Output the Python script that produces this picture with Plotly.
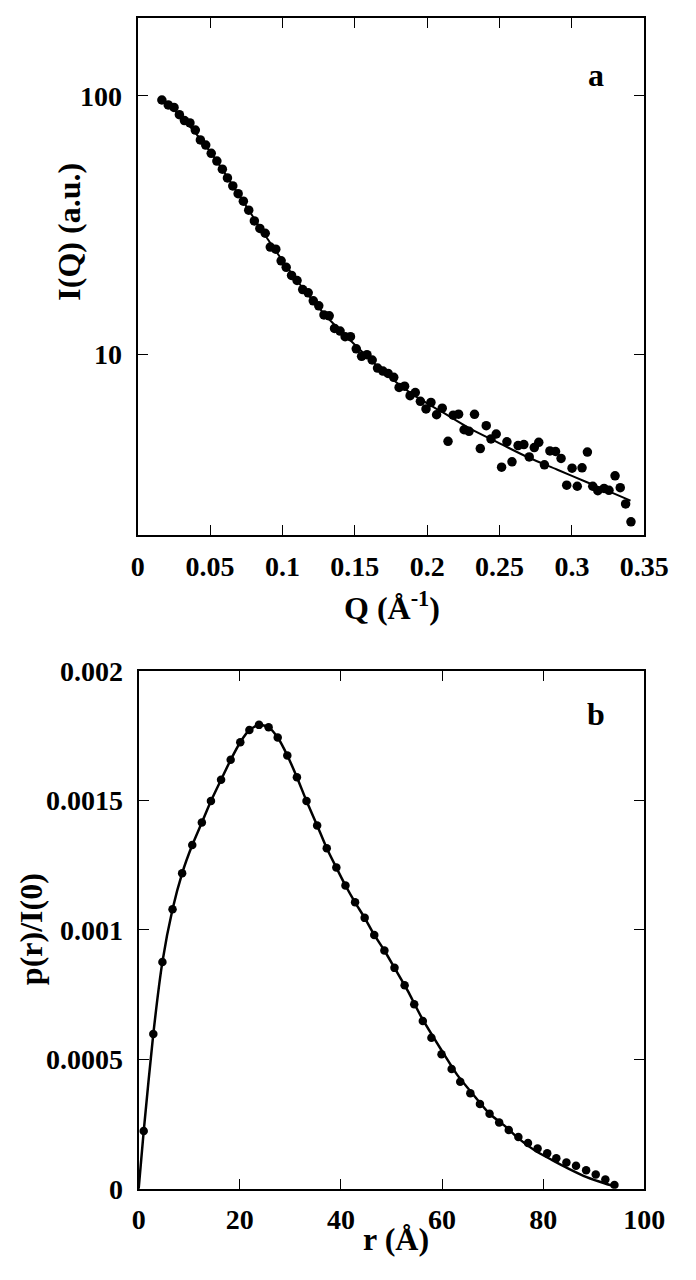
import plotly.graph_objects as go

# panel a: scattering curve, measured points
q_data = [
    0.0167, 0.0211, 0.0251, 0.0288, 0.0323, 0.0361, 0.0398, 0.0433, 0.0470, 0.0508,
    0.0547, 0.0585, 0.0620, 0.0657, 0.0694, 0.0730, 0.0767, 0.0806, 0.0844, 0.0881,
    0.0916, 0.0954, 0.0991, 0.1026, 0.1063, 0.1101, 0.1140, 0.1178, 0.1213, 0.1251,
    0.1287, 0.1323, 0.1360, 0.1398, 0.1433, 0.1470, 0.1510, 0.1547, 0.1584, 0.1620,
    0.1657, 0.1694, 0.1730, 0.1769, 0.1806, 0.1844, 0.1882, 0.1918, 0.1953, 0.1992,
    0.2026, 0.2065, 0.2104, 0.2144, 0.2180, 0.2217, 0.2255, 0.2289, 0.2327, 0.2367,
    0.2408, 0.2441, 0.2477, 0.2514, 0.2551, 0.2586, 0.2628, 0.2668, 0.2705, 0.2740,
    0.2771, 0.2810, 0.2848, 0.2887, 0.2925, 0.2964, 0.3001, 0.3037, 0.3070, 0.3107,
    0.3144, 0.3179, 0.3222, 0.3256, 0.3298, 0.3334, 0.3371, 0.3408,
]
i_data = [
    96.3, 92.2, 90.1, 84.5, 80.2, 78.5, 73.7, 67.5, 64.5, 59.9,
    55.9, 52.0, 48.1, 44.8, 41.8, 39.1, 36.1, 32.8, 30.7, 29.4,
    26.0, 25.5, 23.0, 21.7, 20.2, 19.3, 17.8, 17.3, 16.1, 15.4,
    14.2, 14.1, 12.6, 12.3, 11.7, 11.7, 10.5, 9.83, 9.97, 9.51,
    8.85, 8.62, 8.44, 8.15, 7.45, 7.53, 6.92, 7.12, 6.58, 6.15,
    6.52, 5.84, 6.19, 4.61, 5.82, 5.87, 5.11, 5.04, 5.86, 4.32,
    5.30, 4.71, 4.92, 3.66, 4.59, 3.84, 4.44, 4.48, 4.01, 4.36,
    4.57, 3.74, 4.23, 4.21, 3.96, 3.12, 3.63, 3.09, 3.64, 4.19,
    3.09, 2.97, 3.03, 2.98, 3.39, 3.05, 2.64, 2.25,
]

# panel a: fitted curve
q_fit = [0.0167, 0.03, 0.05, 0.07, 0.09, 0.11, 0.13, 0.15, 0.17, 0.19,
         0.21, 0.23, 0.25, 0.27, 0.29, 0.31, 0.33, 0.3405]
i_fit = [96.3, 83.0, 60.8, 41.3, 27.8, 19.3, 14.1, 10.9, 8.55, 7.0,
         6.0, 5.15, 4.53, 3.99, 3.58, 3.21, 2.88, 2.72]

# panel b: distance distribution, points
r_data = [
    1.0, 2.9, 4.7, 6.7, 8.6, 10.6, 12.5, 14.3, 16.3, 18.2,
    20.1, 21.9, 23.8, 25.7, 27.5, 29.4, 31.3, 33.2, 35.3, 37.2,
    39.1, 40.9, 42.8, 44.7, 46.6, 48.6, 50.6, 52.6, 54.5, 56.2,
    57.9, 59.9, 61.9, 63.6, 65.6, 67.5, 69.4, 71.3, 73.2, 75.1,
    77.0, 78.9, 80.8, 82.6, 84.6, 86.5, 88.5, 90.4, 92.3, 94.1,
]
p_data = [
    0.000223, 0.000598, 0.000876, 0.001079, 0.001218, 0.001327, 0.001414, 0.001497, 0.001579, 0.001656,
    0.001724, 0.001771, 0.001791, 0.001782, 0.001742, 0.001673, 0.001589, 0.001497, 0.001403, 0.001315,
    0.001240, 0.001171, 0.001106, 0.001046, 0.000980, 0.000920, 0.000853, 0.000786, 0.000713, 0.000648,
    0.000583, 0.000520, 0.000463, 0.000413, 0.000369, 0.000328, 0.000290, 0.000256, 0.000227, 0.000200,
    0.000177, 0.000156, 0.000137, 0.000118, 0.000102, 0.0000892, 0.0000716, 0.0000553, 0.0000365, 0.000015,
]

# panel b: fitted curve
r_fit = [0, 1.0, 2.9, 4.7, 6.7, 8.6, 10.6, 12.5, 14.3, 16.3, 18.2, 20.1, 21.9, 23.8,
         25.7, 27.5, 29.4, 31.3, 33.2, 35.3, 37.2, 39.1, 40.9, 42.8, 44.7, 46.6,
         48.6, 50.6, 53.2, 56.0, 59.9, 63.0, 66.0, 69.4, 72.3, 75.1, 78.6, 81.7,
         84.8, 88.6, 92.4, 94.1]
p_fit = [0, 0.000223, 0.000598, 0.000876, 0.001079, 0.001218, 0.001327, 0.001414,
         0.001497, 0.001579, 0.001656, 0.001724, 0.001771, 0.001791, 0.001782,
         0.001742, 0.001673, 0.001589, 0.001497, 0.001403, 0.001315, 0.00124,
         0.001171, 0.001106, 0.001046, 0.00098, 0.00092, 0.000853, 0.000765,
         0.00066, 0.000535, 0.00044, 0.000368, 0.00029, 0.000245, 0.000195,
         0.000145, 0.000112, 0.00008, 0.000045, 0.00002, 0.000011]

q_ticks = [0, 0.05, 0.1, 0.15, 0.2, 0.25, 0.3, 0.35]
q_labels = ["0", "0.05", "0.1", "0.15", "0.2", "0.25", "0.3", "0.35"]
i_ticks = [10, 100]
r_ticks = [0, 20, 40, 60, 80, 100]
p_ticks = [0, 0.0005, 0.001, 0.0015, 0.002]
p_labels = ["0", "0.0005", "0.001", "0.0015", "0.002"]

W, H = 696, 1280
FONT = "Liberation Serif"

fig = go.Figure()
fig.add_trace(go.Scatter(x=q_fit, y=i_fit, mode="lines", line=dict(color="black", width=2, shape="spline"),
                         xaxis="x", yaxis="y", showlegend=False))
fig.add_trace(go.Scatter(x=q_data, y=i_data, mode="markers", marker=dict(color="black", size=9.5),
                         xaxis="x", yaxis="y", showlegend=False))
fig.add_trace(go.Scatter(x=r_fit, y=p_fit, mode="lines", line=dict(color="black", width=2.5, shape="spline", smoothing=0.6),
                         xaxis="x2", yaxis="y2", showlegend=False))
fig.add_trace(go.Scatter(x=r_data, y=p_data, mode="markers", marker=dict(color="black", size=8.5),
                         xaxis="x2", yaxis="y2", showlegend=False))

tickfont = dict(family=FONT, size=28, color="black", weight="bold")
common = dict(showline=True, linecolor="black", linewidth=2, mirror="ticks", ticks="inside",
              ticklen=10, tickwidth=1.2, tickcolor="black", showgrid=False, zeroline=False,
              tickfont=tickfont)

def px_x(p):
    return p / W

def px_y(p):
    return 1 - p / H

fig.update_layout(
    width=W, height=H,
    margin=dict(l=0, r=0, t=0, b=0),
    paper_bgcolor="white", plot_bgcolor="white",
    xaxis=dict(domain=[px_x(137), px_x(668)], range=[0, 0.35], tickvals=q_ticks, ticktext=q_labels,
               anchor="y", ticklabelstandoff=5, **common),
    yaxis=dict(domain=[px_y(533), px_y(3)], type="log", range=[0.30103, 2.30103], tickvals=i_ticks,
               ticktext=["10", "100"], anchor="x", ticklabelstandoff=8, **common),
    xaxis2=dict(domain=[px_x(138), px_x(668)], range=[0, 100], tickvals=r_ticks, anchor="y2",
                ticklabelstandoff=5, **common),
    yaxis2=dict(domain=[px_y(1203), px_y(672)], range=[0, 0.002], tickvals=p_ticks, ticktext=p_labels,
                anchor="x2", ticklabelstandoff=8, **common),
)

title_font = dict(family=FONT, size=32, color="black", weight="bold")
notes = [
    dict(text="I(Q) (a.u.)", x=px_x(65), y=px_y(222), textangle=-90),
    dict(text="Q (Å<sup>-1</sup>)", x=px_x(404), y=px_y(606), textangle=0),
    dict(text="p(r)/I(0)", x=px_x(25), y=px_y(937), textangle=-90),
    dict(text="r (Å)", x=px_x(408), y=px_y(1254), textangle=0),
    dict(text="a", x=px_x(617), y=px_y(62), textangle=0),
    dict(text="b", x=px_x(617), y=px_y(716), textangle=0),
]
for n in notes:
    fig.add_annotation(xref="paper", yref="paper", xanchor="center", yanchor="middle",
                       showarrow=False, font=title_font, **n)

# the page's default body margin would push the figure off the window
fig.write_html("out.html", config={"displayModeBar": False},
               post_script="document.body.style.margin='0';document.body.style.overflow='hidden';")
